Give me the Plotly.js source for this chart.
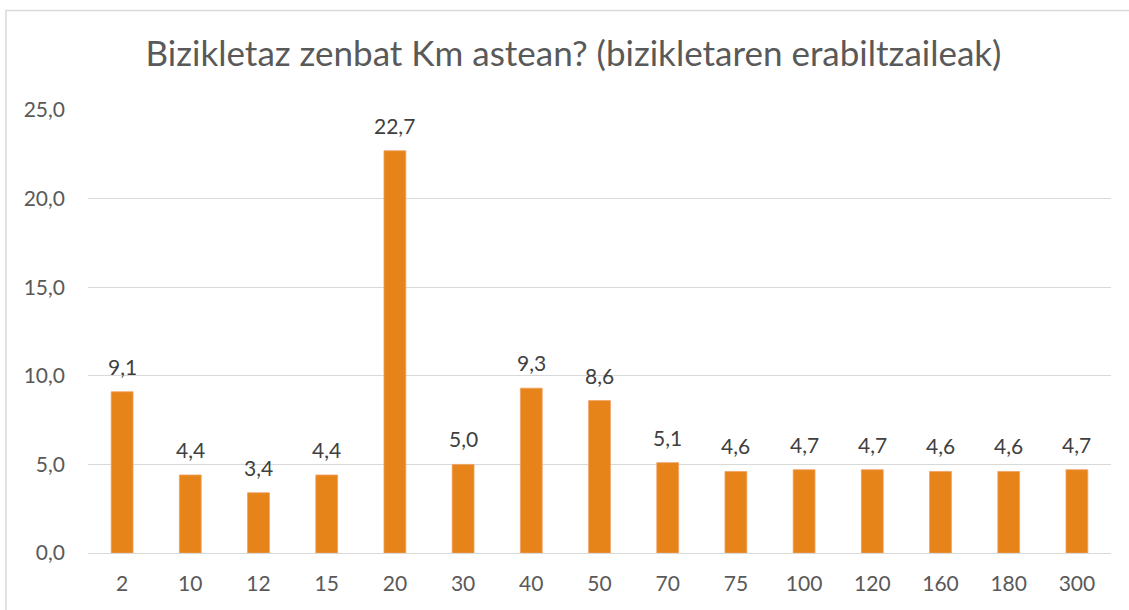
<!DOCTYPE html>
<html>
<head>
<meta charset="utf-8">
<script src="https://cdn.plot.ly/plotly-3.0.1.min.js"></script>
<style>html,body{margin:0;padding:0;background:#fff;}#chart{width:1129px;height:610px;}</style>
</head>
<body>
<div id="chart"></div>
<script>
const categories = ["2","10","12","15","20","30","40","50","70","75","100","120","160","180","300"];
const values = [9.1,4.4,3.4,4.4,22.7,5.0,9.3,8.6,5.1,4.6,4.7,4.7,4.6,4.6,4.7];
const yTicks = [0,5,10,15,20,25];
const titleText = "Bizikletaz zenbat Km astean? (bizikletaren erabiltzaileak)";

const FONT = "Lato, 'Open Sans', sans-serif";
const fmt = v => v.toFixed(1).replace('.', ',');
const trace = {
  type: 'bar',
  x: categories,
  y: values,
  marker: {color: '#E6841A', line: {color: '#F0A060', width: 0.8}},
  hoverinfo: 'none'
};
const annotations = categories.map((c, i) => ({
  x: i, y: values[i], xref: 'x', yref: 'y',
  text: fmt(values[i]), showarrow: false,
  yanchor: 'bottom', yshift: 11,
  font: {family: FONT, size: 21, color: '#404040'}
}));
const layout = {
  width: 1129, height: 610,
  margin: {l: 88, r: 18, t: 109.5, b: 57},
  paper_bgcolor: '#fff', plot_bgcolor: '#fff',
  separators: ',.',
  bargap: 0.68,
  showlegend: false,
  font: {family: FONT, color: '#595959'},
  title: {
    text: titleText,
    font: {family: FONT, size: 35, color: '#595959'},
    xref: 'container', x: 0.508, xanchor: 'center',
    yref: 'container', y: 0.912, yanchor: 'middle'
  },
  xaxis: {
    type: 'category',
    categoryarray: categories, categoryorder: 'array',
    range: [-0.5, categories.length - 0.5],
    showgrid: false, zeroline: false,
    showline: true, linecolor: '#d9d9d9', linewidth: 1.3,
    ticks: '', tickfont: {family: FONT, size: 21, color: '#595959'},
    ticklabelstandoff: 11
  },
  yaxis: {
    range: [0, 25],
    tickvals: yTicks,
    tickformat: '.1f',
    showgrid: true, gridcolor: '#d9d9d9', gridwidth: 1.3,
    zeroline: false, showline: false, ticks: '',
    tickfont: {family: FONT, size: 21, color: '#595959'},
    ticklabelstandoff: 22
  },
  annotations: annotations,
  shapes: [{
    type: 'rect', xref: 'paper', yref: 'paper',
    x0: -0.0802, x1: 1.1, y0: -0.3, y1: 1.2244,
    line: {color: '#d9d9d9', width: 1.5}, fillcolor: 'rgba(0,0,0,0)', layer: 'below'
  }]
};
Plotly.newPlot('chart', [trace], layout, {displayModeBar: false, staticPlot: true});
</script>
</body>
</html>
